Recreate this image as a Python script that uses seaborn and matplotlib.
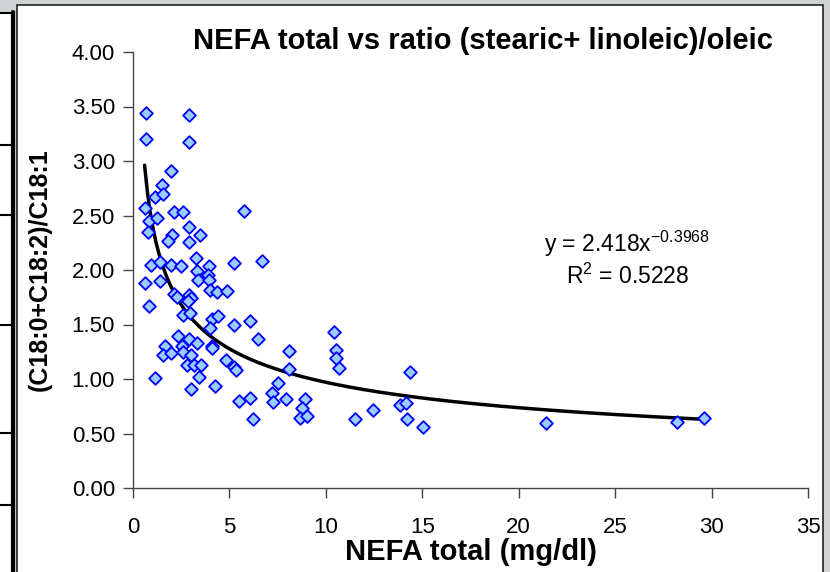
import numpy as np
import pandas as pd
import matplotlib
matplotlib.use("Agg")
import matplotlib.pyplot as plt
from matplotlib.lines import Line2D
from matplotlib.patches import Rectangle
import seaborn as sns

# values
nefa = [0.67, 0.67, 2.9, 2.9, 1.97, 1.49, 1.14, 1.57, 0.6, 2.13,
        2.58, 5.76, 0.85, 1.26, 0.79, 2.04, 2.9, 3.47, 1.83, 2.9,
        0.92, 1.40, 1.97, 2.49, 3.25, 3.96, 5.24, 6.7, 3.3, 3.9,
        3.39, 3.94, 0.62, 1.40, 4.0, 4.34, 4.86, 2.14, 2.92, 2.99,
        2.87, 2.27, 0.83, 2.61, 2.96, 4.08, 4.43, 5.26, 6.07, 3.99,
        6.5, 2.32, 2.92, 3.34, 4.08, 4.1, 1.66, 2.52, 1.54, 1.97,
        2.58, 2.99, 2.78, 3.18, 3.51, 4.82, 5.24, 5.34, 1.14, 3.42,
        3.01, 4.25, 5.5, 6.07, 6.24, 7.19, 7.54, 7.28, 7.93, 8.1,
        8.1, 8.93, 8.75, 8.66, 9.02, 10.44, 10.53, 10.5, 10.7, 14.36,
        11.52, 12.46, 13.84, 14.15, 14.19, 15.05, 21.4, 28.19, 29.61]
ratio = [3.44, 3.20, 3.42, 3.17, 2.91, 2.78, 2.67, 2.70, 2.57, 2.53,
         2.53, 2.54, 2.45, 2.48, 2.35, 2.32, 2.39, 2.32, 2.27, 2.26,
         2.05, 2.07, 2.05, 2.04, 2.11, 2.04, 2.06, 2.08, 1.99, 1.95,
         1.91, 1.91, 1.88, 1.90, 1.82, 1.80, 1.81, 1.78, 1.77, 1.74,
         1.72, 1.75, 1.67, 1.59, 1.61, 1.55, 1.58, 1.50, 1.53, 1.47,
         1.37, 1.39, 1.37, 1.33, 1.30, 1.28, 1.30, 1.30, 1.22, 1.24,
         1.25, 1.22, 1.13, 1.13, 1.13, 1.17, 1.11, 1.08, 1.01, 1.02,
         0.91, 0.94, 0.80, 0.83, 0.63, 0.87, 0.96, 0.79, 0.82, 1.26,
         1.09, 0.82, 0.73, 0.645, 0.66, 1.43, 1.27, 1.19, 1.10, 1.06,
         0.63, 0.72, 0.76, 0.78, 0.63, 0.56, 0.60, 0.61, 0.645]

# power trendline shown on the chart
coef_a = 2.418
coef_b = -0.3968
r2 = 0.5228

title = "NEFA total vs ratio (stearic+ linoleic)/oleic"
xlabel = "NEFA total (mg/dl)"
ylabel = "(C18:0+C18:2)/C18:1"
xticks = [0, 5, 10, 15, 20, 25, 30, 35]
yticks = [0.0, 0.5, 1.0, 1.5, 2.0, 2.5, 3.0, 3.5, 4.0]

df = pd.DataFrame({"nefa": nefa, "ratio": ratio})
xfit = np.linspace(min(nefa), max(nefa), 200)
fit = pd.DataFrame({"x": xfit, "y": coef_a * xfit ** coef_b})

sns.set_style("white")
plt.rcParams["font.family"] = ["Liberation Sans", "DejaVu Sans"]
plt.rcParams["mathtext.fontset"] = "custom"
plt.rcParams["mathtext.rm"] = "Liberation Sans"
plt.rcParams["text.color"] = "black"
plt.rcParams["axes.labelcolor"] = "black"
plt.rcParams["xtick.labelcolor"] = "black"
plt.rcParams["ytick.labelcolor"] = "black"

W, H = 830, 572
fig = plt.figure(figsize=(8.3, 5.72), dpi=100, facecolor="#cfd3d3")

def px(x, y):
    return x / W, 1 - y / H

# slide-like frame around the chart (behind the axes)
fig.add_artist(Rectangle(px(0, 572), 12 / W, (572 - 14) / H, transform=fig.transFigure,
                         facecolor="white", edgecolor="none", zorder=-10))
fig.add_artist(Rectangle(px(16.5, 580), (822.5 - 16.5) / W, (580 - 5) / H,
                         transform=fig.transFigure, facecolor="white",
                         edgecolor="#222222", linewidth=1.2, zorder=-10))
x0, y0 = px(13, 12)
x1, y1 = px(13, 572)
fig.add_artist(Line2D([x0, x1], [y0, y1], transform=fig.transFigure, color="black",
                      lw=3, zorder=-5))
for yy in [13, 145, 215, 325, 433, 505]:
    a, b = px(0, yy)
    c, d = px(13, yy)
    fig.add_artist(Line2D([a, c], [b, d], transform=fig.transFigure, color="black",
                          lw=1.5, zorder=-5))

ax = fig.add_axes([133 / W, 1 - 488 / H, (808 - 133) / W, (488 - 52) / H])
ax.set_zorder(5)
ax.set_facecolor("white")

sns.lineplot(data=fit, x="x", y="y", ax=ax, color="black", lw=2.5, zorder=3)
sns.scatterplot(data=df, x="nefa", y="ratio", ax=ax, marker="D", s=42,
                color="#99ccff", edgecolor="#0000ff", linewidth=1.3, zorder=4)

ax.set_xlim(0, 35)
ax.set_ylim(0, 4)
ax.set_xticks(xticks)
ax.set_yticks(yticks)
ax.set_yticklabels([f"{v:.2f}" for v in yticks])
ax.tick_params(axis="both", labelsize=16, length=7, width=1, color="#444444",
               labelcolor="black", direction="out", left=True, bottom=True)
ax.tick_params(axis="x", pad=14)
ax.tick_params(axis="y", pad=6)
for side in ["top", "right"]:
    ax.spines[side].set_visible(False)
for side in ["left", "bottom"]:
    ax.spines[side].set_color("#444444")
    ax.spines[side].set_linewidth(1)

ax.set_xlabel(xlabel, fontsize=21, fontweight="bold", labelpad=0, color="black")
ax.set_ylabel(ylabel, fontsize=18, fontweight="bold", labelpad=14, color="black")
ax.set_title(title, fontsize=21, fontweight="bold", pad=2, x=0.519, color="black")

ax.text(0.732, 0.56, r"y = 2.418x$^{\mathrm{-0.3968}}$", transform=ax.transAxes,
        fontsize=16.5, ha="center", va="center", color="black")
ax.text(0.733, 0.485, r"R$^{\mathrm{2}}$ = " + f"{r2:.4f}", transform=ax.transAxes,
        fontsize=16.5, ha="center", va="center", color="black")

fig.savefig("out.png", dpi=100, facecolor=fig.get_facecolor())
